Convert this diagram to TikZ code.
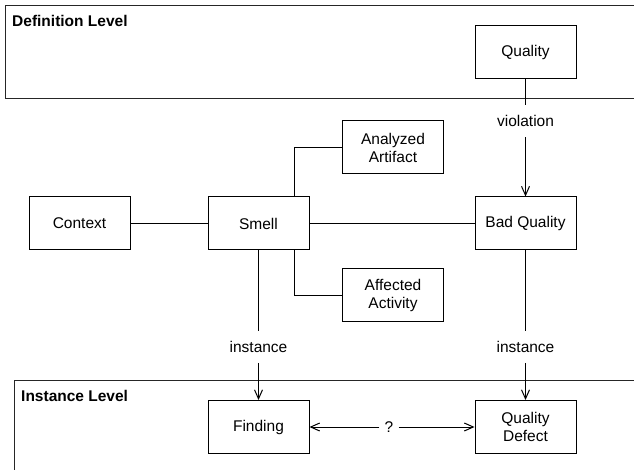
\documentclass[tikz,border=0pt]{standalone}
\usepackage{fontspec}
\setmainfont{Liberation Sans}
\usetikzlibrary{arrows.meta}

\tikzset{
  box/.style={draw, line width=1pt, minimum width=101pt, minimum height=53pt,
    inner sep=0pt, align=center, font=\fontsize{15.5}{18}\selectfont},
  tag/.style={inner xsep=0pt, inner ysep=10pt, font=\fontsize{15.5}{18}\selectfont},
  level/.style={anchor=base west, inner sep=0pt, font=\fontsize{15.5}{18}\selectfont\bfseries},
  frame/.style={draw=black!85, line width=1.3pt},
  link/.style={line width=1pt},
  arr/.style={line width=1pt, -{Straight Barb[length=9pt,width=8pt]}},
}

\begin{document}
\begin{tikzpicture}[x=1pt, y=-1pt]
    \useasboundingbox (0,0) rectangle (634,470);

    % Levels
    \draw[frame] (634,5.5) -- (5.5,5.5) -- (5.5,98.5) -- (634,98.5);
    \draw[frame] (14.5,470) -- (14.5,380.5) -- (634,380.5);
    \node[level] (deflevel) at (12,27) {Definition Level};
    \node[level] (instlevel) at (21,401.5) {Instance Level};

    % Boxes
    \node[box] (quality) at (525.5,52.5) {Quality};
    \node[box] (context) at (79.5,223.5) {Context};
    \node[box] (smell) at (258.5,223.5) {Smell};
    \node[box] (badquality) at (525.5,223.5) {Bad Quality};
    \node[box] (artifact) at (393,147.5) {Analyzed\\Artifact};
    \node[box] (activity) at (393,295) {Affected\\Activity};
    \node[box] (finding) at (258.5,427) {Finding};
    \node[box] (defect) at (525.5,427) {Quality\\Defect};

    % Labels
    \node[tag, inner ysep=10.5pt] (violation) at (525.5,121) {violation};
    \node[tag] (instsmell) at (258.5,347) {instance};
    \node[tag] (instbad) at (525.5,347) {instance};
    \node[tag, inner xsep=5pt] (unknown) at (389,427) {?};

    % Edges
    \draw[link] (context) -- (smell);
    \draw[link] (smell) -- (badquality);
    \draw[link] ([xshift=-15pt]smell.north east) |- (artifact);
    \draw[link] ([xshift=-15pt]smell.south east) |- (activity);
    \draw[link] (quality) -- (violation);
    \draw[arr] (violation) -- (badquality);
    \draw[link] (smell) -- (instsmell);
    \draw[arr] (instsmell) -- (finding);
    \draw[link] (badquality) -- (instbad);
    \draw[arr] (instbad) -- (defect);
    \draw[arr] (unknown) -- (finding);
    \draw[arr] (unknown) -- (defect);
\end{tikzpicture}
\end{document}
